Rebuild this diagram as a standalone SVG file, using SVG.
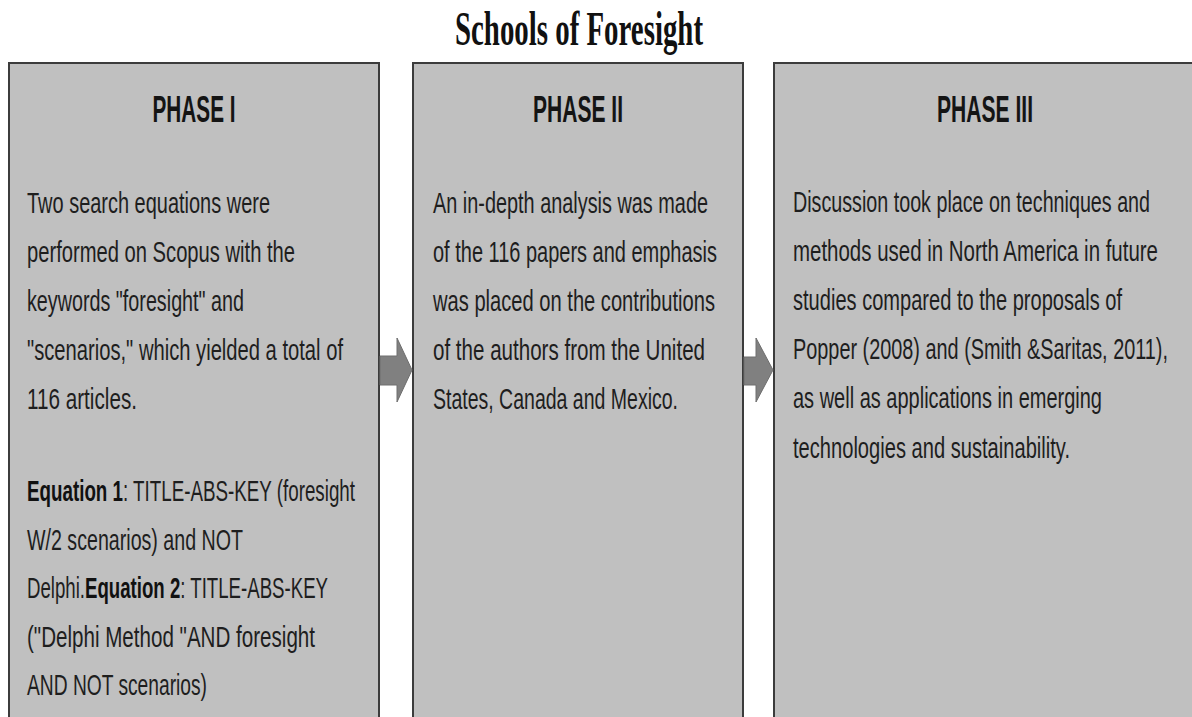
<svg xmlns="http://www.w3.org/2000/svg" width="1192" height="717" viewBox="0 0 1192 717">
<style>
.box{fill:#c0c0c0;stroke:#3c3c3c;stroke-width:2}
.title{font-family:"Liberation Serif","Times New Roman",serif;font-weight:bold;font-size:27px;fill:#111}
.head{font-family:"Liberation Sans",Arial,sans-serif;font-weight:bold;font-size:20px;fill:#141414;text-anchor:middle}
.body{font-family:"Liberation Sans",Arial,sans-serif;font-size:19.5px;fill:#1e1e1e}
.b{font-weight:bold;fill:#111}
.arrow{fill:#808080;stroke:#6e6e6e;stroke-width:1}
</style>
<rect x="0" y="0" width="1192" height="717" fill="#ffffff"/>
<text class="title" transform="translate(455 45) scale(1 1.78)" textLength="248" lengthAdjust="spacingAndGlyphs">Schools of Foresight</text>
<g id="phase1">
<rect class="box" x="9" y="63" width="370" height="700"/>
<text class="head" transform="translate(194 122) scale(1 1.85)" textLength="83" lengthAdjust="spacingAndGlyphs">PHASE I</text>
<text class="body" transform="translate(27 213) scale(1 1.487)" textLength="243" lengthAdjust="spacingAndGlyphs">Two search equations were</text>
<text class="body" transform="translate(27 262) scale(1 1.487)" textLength="268" lengthAdjust="spacingAndGlyphs">performed on Scopus with the</text>
<text class="body" transform="translate(27 311) scale(1 1.487)" textLength="217" lengthAdjust="spacingAndGlyphs">keywords "foresight" and</text>
<text class="body" transform="translate(27 360) scale(1 1.487)" textLength="316" lengthAdjust="spacingAndGlyphs">"scenarios," which yielded a total of</text>
<text class="body" transform="translate(27 409) scale(1 1.487)" textLength="110" lengthAdjust="spacingAndGlyphs">116 articles.</text>
<text class="body" transform="translate(27 501) scale(1 1.487)" textLength="328" lengthAdjust="spacingAndGlyphs"><tspan class="b">Equation 1</tspan>: TITLE-ABS-KEY (foresight</text>
<text class="body" transform="translate(27 550) scale(1 1.487)" textLength="216" lengthAdjust="spacingAndGlyphs">W/2 scenarios) and NOT</text>
<text class="body" transform="translate(27 598) scale(1 1.487)" textLength="301" lengthAdjust="spacingAndGlyphs">Delphi.<tspan class="b">Equation 2</tspan>: TITLE-ABS-KEY</text>
<text class="body" transform="translate(27 647) scale(1 1.487)" textLength="288" lengthAdjust="spacingAndGlyphs">("Delphi Method "AND foresight</text>
<text class="body" transform="translate(27 695) scale(1 1.487)" textLength="180" lengthAdjust="spacingAndGlyphs">AND NOT scenarios)</text>
</g>
<g id="phase2">
<rect class="box" x="413" y="63" width="330" height="700"/>
<text class="head" transform="translate(578 122) scale(1 1.85)" textLength="90" lengthAdjust="spacingAndGlyphs">PHASE II</text>
<text class="body" transform="translate(433 213) scale(1 1.487)" textLength="275" lengthAdjust="spacingAndGlyphs">An in-depth analysis was made</text>
<text class="body" transform="translate(433 262) scale(1 1.487)" textLength="284" lengthAdjust="spacingAndGlyphs">of the 116 papers and emphasis</text>
<text class="body" transform="translate(433 311) scale(1 1.487)" textLength="282" lengthAdjust="spacingAndGlyphs">was placed on the contributions</text>
<text class="body" transform="translate(433 360) scale(1 1.487)" textLength="272" lengthAdjust="spacingAndGlyphs">of the authors from the United</text>
<text class="body" transform="translate(433 409) scale(1 1.487)" textLength="245" lengthAdjust="spacingAndGlyphs">States, Canada and Mexico.</text>
</g>
<g id="phase3">
<rect class="box" x="774" y="63" width="430" height="700"/>
<text class="head" transform="translate(985 122) scale(1 1.85)" textLength="96" lengthAdjust="spacingAndGlyphs">PHASE III</text>
<text class="body" transform="translate(793 212) scale(1 1.487)" textLength="357" lengthAdjust="spacingAndGlyphs">Discussion took place on techniques and</text>
<text class="body" transform="translate(793 261) scale(1 1.487)" textLength="365" lengthAdjust="spacingAndGlyphs">methods used in North America in future</text>
<text class="body" transform="translate(793 310) scale(1 1.487)" textLength="329" lengthAdjust="spacingAndGlyphs">studies compared to the proposals of</text>
<text class="body" transform="translate(793 359) scale(1 1.487)" textLength="375" lengthAdjust="spacingAndGlyphs">Popper (2008) and (Smith &amp;Saritas, 2011),</text>
<text class="body" transform="translate(793 408) scale(1 1.487)" textLength="309" lengthAdjust="spacingAndGlyphs">as well as applications in emerging</text>
<text class="body" transform="translate(793 458) scale(1 1.487)" textLength="277" lengthAdjust="spacingAndGlyphs">technologies and sustainability.</text>
</g>
<g id="connectors">
<polygon class="arrow" points="380,356 397,356 397,338 412,370 397,402 397,385 380,385"/>
<polygon class="arrow" points="744,357 756,357 756,338 773,370 756,402 756,385 744,385"/>
</g>
</svg>
